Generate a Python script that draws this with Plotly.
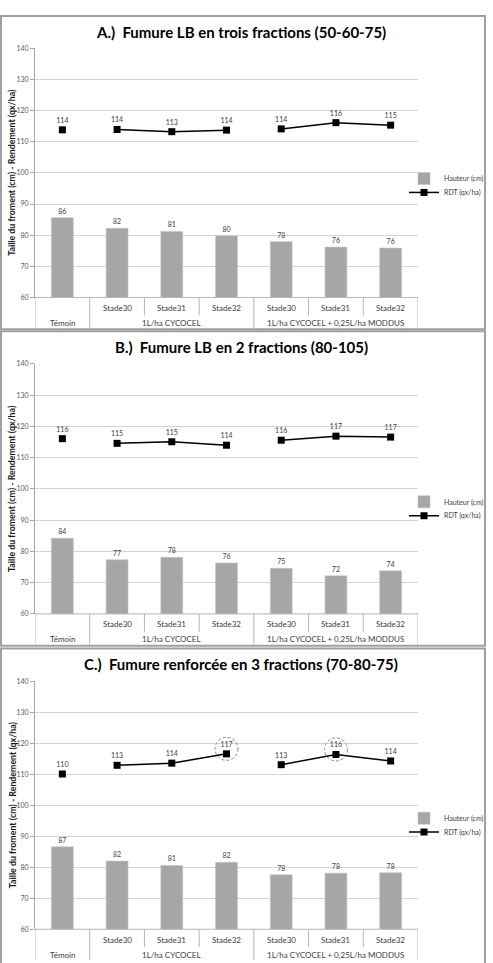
import plotly.graph_objects as go

# ---------------- data ----------------
stades = ["", "Stade30", "Stade31", "Stade32", "Stade30", "Stade31", "Stade32"]
groupes = ["Témoin", "1L/ha CYCOCEL", "1L/ha CYCOCEL + 0,25L/ha MODDUS"]
groupe_index = [0, 1, 1, 1, 2, 2, 2]
x_keys = ["Témoin", "CYC-Stade30", "CYC-Stade31", "CYC-Stade32",
          "MOD-Stade30", "MOD-Stade31", "MOD-Stade32"]

titres = ["A.)  Fumure LB en trois fractions (50-60-75)",
          "B.)  Fumure LB en 2 fractions (80-105)",
          "C.)  Fumure renforcée en 3 fractions (70-80-75)"]

hauteur_A = [85.6, 82.2, 81.2, 79.8, 77.9, 76.2, 75.9]
rdt_A = [113.8, 113.9, 113.2, 113.7, 114.1, 116.1, 115.3]
hauteur_B = [84.2, 77.3, 78.1, 76.3, 74.6, 72.2, 73.8]
rdt_B = [116.1, 114.6, 115.1, 114.0, 115.6, 116.9, 116.6]
hauteur_C = [86.6, 82.0, 80.6, 81.6, 77.6, 78.1, 78.2]
rdt_C = [110.1, 112.9, 113.6, 116.6, 113.1, 116.4, 114.3]

entoures_C = [3, 5]  # points circled in panel C

y_ticks = [60, 70, 80, 90, 100, 110, 120, 130, 140]
nom_hauteur = "Hauteur (cm)"
nom_rdt = "RDT (qx/ha)"
titre_y = "Taille du froment (cm) - Rendement (qx/ha)"

# ---------------- layout helpers ----------------
W, H = 493, 963
def px(p):
    return p / W
def py(p):
    return 1 - p / H

FONT = "Lato"
panels = [
    dict(h=hauteur_A, r=rdt_A, top=43.5, bot=295, frame=(11, 327), title_y=27, leg=175),
    dict(h=hauteur_B, r=rdt_B, top=362, bot=614, frame=(329, 646), title_y=345, leg=501),
    dict(h=hauteur_C, r=rdt_C, top=682, bot=932, frame=(649, 975), title_y=665, leg=820),
]

fig = go.Figure()
shapes = []
annotations = []
layout_extra = {}

for i, p in enumerate(panels):
    sfx = "" if i == 0 else str(i + 1)
    xa, ya = "x" + sfx, "y" + sfx
    leg_h = "legend" if i == 0 else "legend" + str(2 * i + 1)
    leg_r = "legend" + str(2 * i + 2)

    fig.add_trace(go.Bar(
        x=x_keys, y=p["h"], name=nom_hauteur, xaxis=xa, yaxis=ya,
        marker=dict(color="#a6a6a6", line=dict(color="#c4c4c4", width=0.6)),
        width=0.4, texttemplate="%{y:.0f}", textposition="outside",
        textfont=dict(size=7, color="#404040", family=FONT),
        cliponaxis=False, legend=leg_h, showlegend=True))

    segments = [[0], [1, 2, 3], [4, 5, 6]]
    for j, seg in enumerate(segments):
        fig.add_trace(go.Scatter(
            x=[x_keys[k] for k in seg], y=[p["r"][k] for k in seg],
            name=nom_rdt, xaxis=xa, yaxis=ya, mode="lines+markers+text",
            line=dict(color="#000000", width=1.5),
            marker=dict(symbol="square", size=7, color="#000000"),
            texttemplate="%{y:.0f}", textposition="top center",
            textfont=dict(size=7, color="#404040", family=FONT),
            cliponaxis=False, legend=leg_r, legendgroup="rdt" + sfx,
            showlegend=(j == 0)))

    layout_extra["xaxis" + sfx] = dict(
        type="category", categoryorder="array", categoryarray=x_keys,
        range=[-0.5, 6.5], showticklabels=False, showgrid=False,
        showline=False, zeroline=False, ticks="",
        domain=[px(35), px(418)], anchor=ya)
    layout_extra["yaxis" + sfx] = dict(
        range=[60, 140], tickvals=y_ticks, showgrid=True, gridcolor="#d4d4d4",
        gridwidth=1, showline=True, linecolor="#a8a8a8", linewidth=1,
        ticks="outside", ticklen=4, tickcolor="#a8a8a8",
        tickfont=dict(size=7, color="#595959", family=FONT), zeroline=False,
        domain=[py(p["bot"]), py(p["top"])], anchor=xa)
    for name, yy in ((leg_h, p["leg"]), (leg_r, p["leg"] + 14)):
        layout_extra[name] = dict(
            x=px(404), y=py(yy), xanchor="left", yanchor="middle",
            bgcolor="rgba(0,0,0,0)", font=dict(size=7, color="#404040", family=FONT),
            itemwidth=30, tracegroupgap=0, traceorder="normal")

    # frame of the panel
    f0, f1 = p["frame"]
    shapes.append(dict(type="rect", xref="paper", yref="paper",
                       x0=px(1), x1=px(485), y0=py(f1), y1=py(f0),
                       line=dict(color="#a0a0a0", width=2), layer="below"))

    # category table
    yb = p["bot"]
    shapes.append(dict(type="line", xref=xa, yref="paper", x0=-0.5, x1=6.5,
                       y0=py(yb), y1=py(yb), line=dict(color="#b5b5b5", width=1)))
    for k in range(8):
        full = k in (0, 1, 4, 7)
        shapes.append(dict(type="line", xref=xa, yref="paper",
                           x0=k - 0.5, x1=k - 0.5, y0=py(yb),
                           y1=py(yb + (31 if full else 18)),
                           line=dict(color="#b5b5b5", width=1)))
    for k, s in enumerate(stades):
        if s:
            annotations.append(dict(x=k, y=py(yb + 10.5), xref=xa, yref="paper",
                                    text=s, showarrow=False, yanchor="middle",
                                    font=dict(size=8, color="#404040", family=FONT)))
    for g, name in enumerate(groupes):
        ks = [k for k in range(7) if groupe_index[k] == g]
        annotations.append(dict(x=(ks[0] + ks[-1]) / 2, y=py(yb + 25.5), xref=xa,
                                yref="paper", text=name, showarrow=False,
                                yanchor="middle",
                                font=dict(size=8, color="#404040", family=FONT)))

    # titles
    annotations.append(dict(x=px(241), y=py(p["title_y"]), xref="paper", yref="paper",
                            text="<b>" + titres[i] + "</b>", showarrow=False,
                            xanchor="center", yanchor="middle",
                            font=dict(size=15, color="#000000", family=FONT)))
    annotations.append(dict(x=px(12), y=py((p["top"] + p["bot"]) / 2), xref="paper",
                            yref="paper", text="<b>" + titre_y + "</b>",
                            showarrow=False, textangle=-90, xanchor="center",
                            yanchor="middle",
                            font=dict(size=8.8, color="#1a1a1a", family=FONT)))

# dashed circles in panel C
for k in entoures_C:
    shapes.append(dict(type="circle", xref="x3", yref="y3",
                       xsizemode="pixel", ysizemode="pixel",
                       xanchor=x_keys[k], yanchor=rdt_C[k],
                       x0=-11.5, x1=11.5, y0=-6.5, y1=16.5,
                       line=dict(color="#8c8c8c", width=1, dash="3px,2px")))

fig.update_layout(
    width=W, height=H, margin=dict(l=0, r=0, t=0, b=0),
    paper_bgcolor="#ffffff", plot_bgcolor="#ffffff",
    bargap=0.6, barmode="group",
    font=dict(family=FONT, color="#404040"),
    shapes=shapes, annotations=annotations, **layout_extra)

fig.write_html("out.html")
